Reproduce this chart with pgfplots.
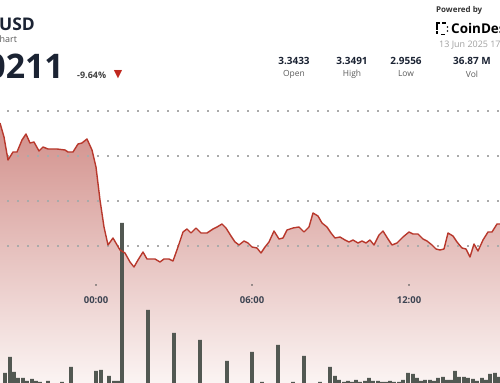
\documentclass[border=0pt]{standalone}
\usepackage{pgfplots}
\pgfplotsset{compat=1.18}
\usepackage{fontspec}
\setmainfont{Open Sans}
\newfontfamily\symfont{DejaVu Sans}
\definecolor{linered}{RGB}{184,56,44}
\definecolor{filltop}{RGB}{210,144,139}
\definecolor{fillmid}{RGB}{236,203,200}
\definecolor{fillbot}{RGB}{251,244,243}
\definecolor{bargray}{RGB}{82,88,82}
\definecolor{navy}{RGB}{27,35,51}
\definecolor{labgray}{RGB}{90,90,90}
\definecolor{dategray}{RGB}{160,160,160}
\definecolor{griddot}{RGB}{170,170,170}
\definecolor{tri}{RGB}{192,40,30}
\pgfplotstableread{
x y
0 260
4 246
8 223
13 231
17 231
22 243
26 249
30 240
34 241
39 232
43 236
48 234
52 234
57 234
65 233
68 231
73 231
78 239
82 240
87 244
92 233
96 216
100 183
104 156
108 138
113 145
120 133
125 130
130 121
134 116
138 123
143 131
147 124
155 124
160 121
164 124
169 124
173 122
178 136
183 151
187 154
191 150
196 155
201 150
207 150
213 154
217 156
222 159
226 155
231 147
235 141
239 138
244 142
248 140
252 136
257 135
261 130
265 136
269 141
274 152
279 144
283 145
287 153
293 155
299 156
304 151
309 156
313 170
318 167
322 160
327 156
331 150
335 145
340 146
345 143
349 141
353 143
358 140
362 142
366 140
370 143
374 138
379 148
383 152
388 144
392 138
397 140
403 146
409 151
413 149
418 149
423 144
427 142
432 138
436 134
440 133
444 134
448 150
453 147
457 141
462 135
466 134
470 126
474 139
478 132
483 143
488 151
492 151
497 159
500 159
}\pricetable
\pgfplotstableread{
x v
5 10
10 26
14 11
18 5
23 5
27 2
32 4
36 2
40 1
48 2
62 1
71 16
96 12
101 13
109 7
114 2
118 2
122 160
148 73
174 50
200 43
227 22
252 31
262 1
278 38
293 1
304 27
320 1
330 16
335 7
339 3
344 1
348 2
352 1
356 3
360 1
365 2
369 5
373 2
378 2
382 1
386 1
390 2
394 1
399 1
403 3
408 10
413 9
417 5
421 2
425 3
430 3
434 2
438 5
443 6
447 3
451 3
455 12
459 6
464 6
468 5
473 4
477 2
482 5
486 3
490 9
495 10
499 6
}\voltable
\begin{document}
\begin{tikzpicture}
\useasboundingbox (0,0) rectangle (500bp,383bp);
\clip (0,0) rectangle (500bp,383bp);
\begin{axis}[at={(0,0)}, anchor=south west, scale only axis,
  width=500bp, height=383bp, xmin=0, xmax=500, ymin=0, ymax=383,
  hide axis, clip=false]
% area fill
\addplot[draw=none, top color=filltop, middle color=fillmid, bottom color=fillbot]
  table[x=x,y=y]{\pricetable} -- (axis cs:500,0) -- (axis cs:0,0) -- cycle;
% grid lines
\foreach \g in {272,227,182,137}{
  \edef\tmp{\noexpand\addplot[griddot, line width=1.5bp, dash pattern=on 1.5bp off 8.5bp, dash phase=-6bp] coordinates {(1,\g) (500,\g)};}
  \tmp
}
% volume bars
\addplot[ybar, bar width=3.8bp, bar shift=0pt, fill=bargray, draw=none]
  table[x=x,y=v]{\voltable};
% price line
\addplot[linered, line width=1.4bp, line join=round] table[x=x,y=y]{\pricetable};
% time tick dots
\addplot[only marks, mark=*, mark size=0.5bp, color=labgray] coordinates {(96,98) (252,98) (409,98)};
% time labels
\node[font=\fontsize{9.5}{10}\selectfont\bfseries, text=navy!85] at (axis cs:96,83) {00:00};
\node[font=\fontsize{9.5}{10}\selectfont\bfseries, text=navy!85] at (axis cs:252,83) {06:00};
\node[font=\fontsize{9.5}{10}\selectfont\bfseries, text=navy!85] at (axis cs:409,83) {12:00};
% header left
\node[anchor=west, font=\fontsize{17.5}{18}\selectfont\bfseries, text=navy, inner sep=0pt] at (axis cs:-1,359) {USD};
\node[anchor=west, font=\fontsize{9}{10}\selectfont, text=labgray, inner sep=0pt] at (axis cs:-0.5,344) {hart};
\node[anchor=east, font=\fontsize{34}{35}\selectfont\bfseries, text=navy, inner sep=0pt] at (axis cs:64,317) {3.0211};
\node[anchor=west, font=\fontsize{9}{10}\selectfont\bfseries, text=black!75, inner sep=0pt] at (axis cs:77,308) {-9.64\%};
\node[font=\symfont\fontsize{11}{12}\selectfont, text=tri, inner sep=0pt] at (axis cs:118,308) {▼};
% header right
\node[anchor=west, font=\fontsize{8}{9}\selectfont\bfseries, text=black!80, inner sep=0pt] at (axis cs:436,373) {Powered by};
\draw[black, line width=1.6bp] (axis cs:437,353) -- (axis cs:437,360) -- (axis cs:440,360);
\draw[black, line width=1.6bp] (axis cs:437,352) -- (axis cs:437,349) ;
\draw[black, line width=1.6bp] (axis cs:441,348.5) -- (axis cs:445,348.5);
\draw[black, line width=1.6bp] (axis cs:442,360) -- (axis cs:446,360);
\fill[black] (axis cs:447.5,356) circle (0.9bp);
\fill[black] (axis cs:447.5,352) circle (0.9bp);
\node[anchor=west, font=\fontsize{13.5}{14}\selectfont\bfseries, text=black, inner sep=0pt] at (axis cs:451,355) {CoinDesk};
\node[anchor=west, font=\fontsize{9}{10}\selectfont, text=dategray, inner sep=0pt] at (axis cs:439,338) {13 Jun 2025 17:00 UTC};
% stats
\foreach \xx/\val/\lab in {294/3.3433/Open, 352/3.3491/High, 406/2.9556/Low, 472/36.87 M/Vol}{
  \edef\tmp{\noexpand\node[font=\noexpand\fontsize{10}{11}\noexpand\selectfont\noexpand\bfseries, text=navy, inner sep=0pt] at (axis cs:\xx,322) {\val};
  \noexpand\node[font=\noexpand\fontsize{8.5}{9}\noexpand\selectfont, text=labgray, inner sep=0pt] at (axis cs:\xx,309) {\lab};}
  \tmp
}
\end{axis}
\end{tikzpicture}
\end{document}
